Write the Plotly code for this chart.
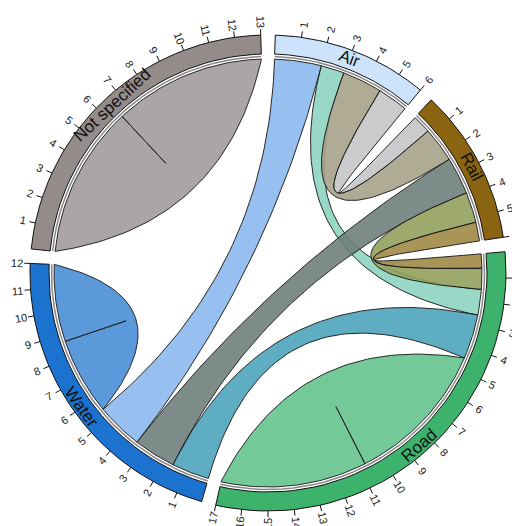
import numpy as np
import plotly.graph_objects as go

# sectors and their sizes (ticks)
sectors = ["Air", "Rail", "Road", "Water", "Not specified"]
sizes = [6, 6, 17, 12, 13]
track_colors = ["#cde3fb", "#8a6410", "#3db26d", "#1c73cf", "#948b8b"]

# links: (sector a, start, end, sector b, start, end, colour)
links_a = ["Not specified", "Water", "Road", "Air", "Air", "Air", "Air", "Rail", "Rail", "Rail", "Road"]
links_a_from = [0, 5.4, 4.5, 0, 2, 3, 4.7, 2.3, 3.9, 5.2, 2.6]
links_a_to = [6.5, 8.7, 10.75, 2, 3, 4.7, 6, 3.9, 5.2, 6, 4.5]
links_b = ["Not specified", "Water", "Road", "Water", "Road", "Rail", "Rail", "Water", "Road", "Road", "Water"]
links_b_from = [6.5, 8.7, 10.75, 3.4, 1.5, 0.8, 0, 1.6, 0.6, 0, 0]
links_b_to = [13, 12, 17, 5.4, 2.6, 2.3, 0.8, 3.4, 1.5, 0.6, 1.6]
link_colors = ["#a39c9c", "#4a8fd8", "#66c48e", "#8cb9ee", "#8fd3c0", "#a8a38a",
               "#c4c6c8", "#6f807c", "#93a05e", "#a08a45", "#4ea5bc"]

gap = 3.5
unit = (360 - gap * len(sectors)) / sum(sizes)
starts = {}
a = gap / 2
for s, n in zip(sectors, sizes):
    starts[s] = a
    a += n * unit + gap

R_OUT, R_IN, R_LINK = 238, 219, 214


def ang(s, v):
    return np.radians(starts[s] + v * unit)


def pt(t, r):
    return np.array([r * np.sin(t), r * np.cos(t)])


def arc(t0, t1, r, n=40):
    t = np.linspace(t0, t1, n)
    return np.column_stack([r * np.sin(t), r * np.cos(t)])


def bez(t0, t1, self_link, r=R_LINK, n=60):
    p0, p2 = pt(t0, r), pt(t1, r)
    c = (p0 + p2) / 2 * 0.4 if self_link else np.zeros(2)
    s = np.linspace(0, 1, n)[:, None]
    return (1 - s) ** 2 * p0 + 2 * (1 - s) * s * c + s ** 2 * p2


fig = go.Figure()

for i in range(len(links_a)):
    self_link = links_a[i] == links_b[i]
    a1, a2 = ang(links_a[i], links_a_from[i]), ang(links_a[i], links_a_to[i])
    b1, b2 = ang(links_b[i], links_b_from[i]), ang(links_b[i], links_b_to[i])
    p = np.vstack([arc(a1, a2, R_LINK), bez(a2, b1, self_link),
                   arc(b1, b2, R_LINK), bez(b2, a1, self_link)])
    fig.add_trace(go.Scatter(x=p[:, 0], y=p[:, 1], mode="lines", fill="toself",
                             fillcolor=link_colors[i], opacity=0.9,
                             line=dict(color="#111", width=1), hoverinfo="skip"))

ann = []
for s, n, col in zip(sectors, sizes, track_colors):
    t0, t1 = ang(s, 0), ang(s, n)
    p = np.vstack([arc(t0, t1, R_OUT), arc(t1, t0, R_IN), arc(t0, t0, R_OUT, 2)])
    fig.add_trace(go.Scatter(x=p[:, 0], y=p[:, 1], mode="lines", fill="toself",
                             fillcolor=col, line=dict(color="#111", width=1), hoverinfo="skip"))
    q = arc(t0, t1, R_IN - 2.5)
    fig.add_trace(go.Scatter(x=q[:, 0], y=q[:, 1], mode="lines",
                             line=dict(color="#888", width=1.5), hoverinfo="skip"))
    # ticks
    tx, ty = [], []
    for k in range(1, n + 1):
        t = ang(s, k)
        a_, b_ = pt(t, R_OUT), pt(t, R_OUT + 6)
        tx += [a_[0], b_[0], None]
        ty += [a_[1], b_[1], None]
        d = np.degrees(t)
        lp = pt(t, R_OUT + 13)
        ann.append(dict(x=lp[0], y=lp[1], text=str(k), showarrow=False,
                        textangle=(d - 90) if d < 180 else (d - 270),
                        font=dict(size=11, color="#222")))
    fig.add_trace(go.Scatter(x=tx, y=ty, mode="lines", line=dict(color="#111", width=1),
                             hoverinfo="skip"))
    mid = (t0 + t1) / 2
    d = np.degrees(mid)
    lp = pt(mid, (R_OUT + R_IN) / 2 + 1)
    ann.append(dict(x=lp[0], y=lp[1], text=s, showarrow=False,
                    textangle=(d - 180) if 90 < d < 270 else (d if d < 90 else d - 360),
                    font=dict(size=17, color="#111")))

fig.update_layout(
    width=520, height=526, showlegend=False, annotations=ann,
    margin=dict(l=0, r=0, t=0, b=0), paper_bgcolor="white", plot_bgcolor="white",
    font=dict(family="Liberation Sans, Arial, sans-serif"),
    xaxis=dict(range=[-260, 260], visible=False),
    yaxis=dict(range=[-261, 265], visible=False, scaleanchor="x"),
)
fig.write_html("out.html")
